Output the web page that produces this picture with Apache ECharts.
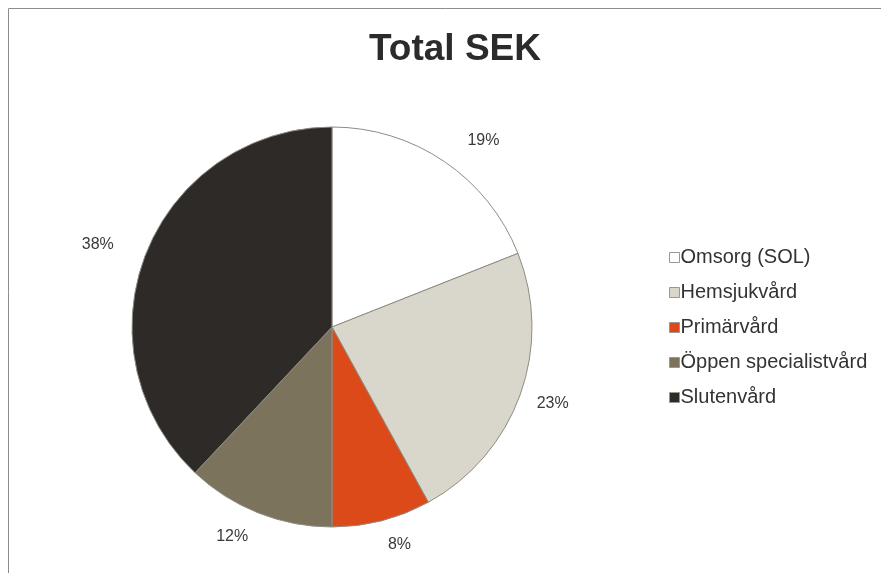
<!DOCTYPE html>
<html>
<head>
<meta charset="utf-8">
<script src="https://cdn.jsdelivr.net/npm/echarts@6/dist/echarts.min.js"></script>
<style>
  html, body { margin: 0; padding: 0; background: #ffffff; }
  #chart { width: 881px; height: 573px; }
</style>
</head>
<body>
<div id="chart"></div>
<script>
// data
const categories = ['Omsorg (SOL)', 'Hemsjukvård', 'Primärvård', 'Öppen specialistvård', 'Slutenvård'];
const values = [19, 23, 8, 12, 38];
const colors = ['#ffffff', '#d9d7cc', '#dc4a1a', '#7b735b', '#2e2a27'];
// small nudges so the labels sit where the original ones do
const labelOffsets = [[0, 0], [-16, 0], [-9, 0], [8, 0], [0, 0]];

const myChart = echarts.init(document.getElementById('chart'));

const option = {
  backgroundColor: '#ffffff',
  animation: false,
  title: {
    text: 'Total SEK',
    left: 450,
    top: 26,
    textAlign: 'center',
    textStyle: {
      color: '#2b2b2b',
      fontFamily: 'Liberation Sans',
      fontSize: 37,
      fontWeight: 'bold'
    }
  },
  legend: {
    orient: 'vertical',
    left: 664,
    top: 242,
    itemWidth: 10,
    itemHeight: 10,
    itemGap: 14,
    icon: 'rect',
    data: categories,
    itemStyle: { borderColor: '#9a978e', borderWidth: 1 },
    textStyle: {
      color: '#333333',
      fontFamily: 'Liberation Sans',
      fontSize: 20,
      lineHeight: 21,
      padding: [0, 0, 0, -4]
    }
  },
  graphic: [
    {
      type: 'polyline',
      shape: { points: [[8.5, 600], [8.5, 8.5], [900, 8.5]] },
      style: { stroke: '#8c8c8c', lineWidth: 1, fill: null }
    }
  ],
  series: [
    {
      type: 'pie',
      center: [332, 327],
      radius: 200,
      startAngle: 90,
      clockwise: true,
      label: {
        show: true,
        position: 'outside',
        formatter: '{d}%',
        color: '#3a3a3a',
        fontFamily: 'Liberation Sans',
        fontSize: 16
      },
      labelLine: { show: false, length: 25, length2: 4 },
      itemStyle: { borderColor: '#8f8c82', borderWidth: 1 },
      emphasis: { disabled: true },
      data: categories.map((name, i) => ({
        name: name,
        value: values[i],
        itemStyle: { color: colors[i] },
        label: { offset: labelOffsets[i] }
      }))
    }
  ]
};

myChart.setOption(option);
</script>
</body>
</html>
